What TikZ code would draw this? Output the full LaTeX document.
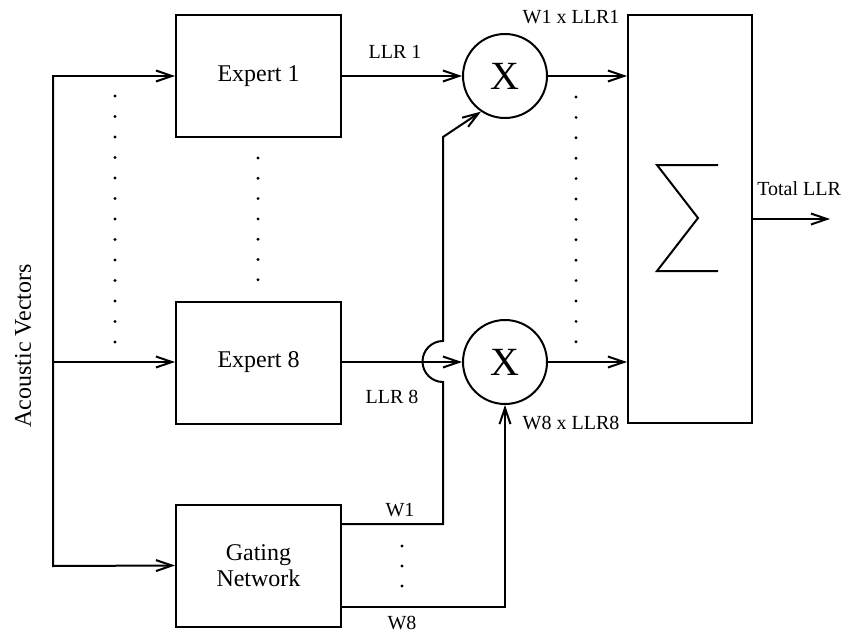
\documentclass[tikz,border=0pt]{standalone}
\usepackage{fontspec}
\setmainfont{Liberation Serif}
\usetikzlibrary{arrows.meta,calc,positioning}

\begin{document}
\begin{tikzpicture}[x=1pt, y=-1pt, line width=2pt,
    >={Straight Barb[length=16pt,width=11pt]},
    block/.style={draw, minimum width=165pt, minimum height=122pt, inner sep=0pt,
        align=center, font=\fontsize{24}{26}\selectfont},
    mult/.style={draw, circle, minimum size=84pt, inner sep=0pt, font=\fontsize{40}{40}\selectfont},
    lbl/.style={font=\fontsize{20}{22}\selectfont}]
    \useasboundingbox (0,0) rectangle (843,634);

    % Experts and gating network
    \node[block] (exp1) at (258.5,76) {Expert 1};
    \node[block] (exp8) at (258.5,362.5) {Expert 8};
    \node[block] (gate) at (258.5,565.5) {Gating\\Network};

    % Multipliers
    \node[mult] (mul1) at (505,76) {X};
    \node[mult] (mul8) at (505,362) {X};

    % Summation box
    \node[draw, minimum width=124pt, minimum height=408pt, inner sep=0pt] (sum) at (690,219) {};
    \draw (718,165) -- (657,165) -- (698,218) -- (657,271) -- (718,271);

    % Input bus
    \coordinate (in1) at (53,76);
    \coordinate (in8) at (53,362);
    \coordinate (ing) at (53,566);
    \draw[->] (ing) -- (in1) -- (exp1.west);
    \draw[->] (in1) -- (ing) -- (gate.west);
    \draw[->] (in8) -- (exp8.west |- in8);
    \node[rotate=90, font=\fontsize{24}{26}\selectfont] (acv) at (23,346) {Acoustic Vectors};
    \foreach \i in {0,...,12} \fill (115,{96+20.5*\i}) circle (1.6);
    \foreach \i in {0,...,6} \fill (258,{158+20.3*\i}) circle (1.6);

    % LLR outputs
    \draw[->] (exp1.east) -- (mul1.west);
    \draw[->] (exp8.east |- mul8) -- (mul8.west);
    \node[lbl] (llr1) at (395,52) {LLR 1};
    \node[lbl] (llr8) at (392,397) {LLR 8};

    % Weighted LLRs into the sum
    \draw[->] (mul1.east) -- (mul1 -| sum.west);
    \draw[->] (mul8.east) -- (mul8 -| sum.west);
    \node[lbl] (wl1) at (571,17) {W1 x LLR1};
    \node[lbl] (wl8) at (571,423) {W8 x LLR8};
    \foreach \i in {0,...,12} \fill (576,{97+20.4*\i}) circle (1.6);

    % Output
    \coordinate (out) at (830,219);
    \draw[->] (sum.east) -- (out);
    \node[lbl, anchor=west] (tot) at (753,189) {Total LLR};

    % Gating weights
    \coordinate (w1) at (443,524);
    \coordinate (w8) at (505,607);
    \draw[->] (gate.east |- w1) -- (w1) -- (443,382)
        arc[start angle=90, end angle=270, radius=20.5] -- (443,137) -- (mul1.236);
    \draw[->] (gate.east |- w8) -- (w8) -- (mul8.south);
    \node[lbl] (lw1) at (400,510) {W1};
    \node[lbl] (lw8) at (402,623) {W8};
    \foreach \y in {546,566,586} \fill (402,\y) circle (1.6);
\end{tikzpicture}
\end{document}
